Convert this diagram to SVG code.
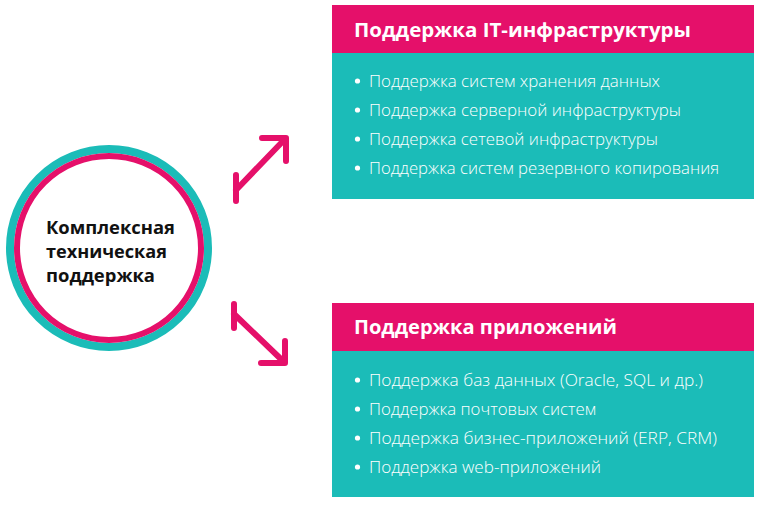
<svg xmlns="http://www.w3.org/2000/svg" width="762" height="505" viewBox="0 0 762 505">
  <style>
    .hdr { fill: #E5106A; }
    .body { fill: #1BBCB8; }
    .title { font-family: "Open Sans", "Noto Sans", "Liberation Sans", sans-serif; font-weight: 700; font-size: 20px; fill: #FFFFFF; }
    .item { font-family: "Open Sans", "Noto Sans", "Liberation Sans", sans-serif; font-weight: 300; font-size: 16.6px; fill: #FFFFFF; }
    .dot { fill: #FFFFFF; }
    .center { font-family: "Open Sans", "Noto Sans", "Liberation Sans", sans-serif; font-weight: 700; font-size: 18px; fill: #111111; }
    .arrow { fill: none; stroke: #E5106A; stroke-width: 6; stroke-linecap: round; stroke-linejoin: round; }
  </style>

  <g id="node-center">
    <circle cx="109" cy="248" r="99" fill="#FFFFFF" stroke="#1BBCB8" stroke-width="8"/>
    <circle cx="109" cy="248" r="92" fill="#FFFFFF" stroke="#E5106A" stroke-width="6"/>
    <text class="center" x="46" y="234" textLength="129" lengthAdjust="spacingAndGlyphs">Комплексная</text>
    <text class="center" x="46" y="258" textLength="121" lengthAdjust="spacingAndGlyphs">техническая</text>
    <text class="center" x="46" y="282" textLength="109" lengthAdjust="spacingAndGlyphs">поддержка</text>
  </g>

  <g id="node-it">
    <rect class="hdr" x="332" y="5" width="422" height="48"/>
    <rect class="body" x="332" y="53" width="422" height="146"/>
    <text class="title" x="354" y="37" textLength="337" lengthAdjust="spacingAndGlyphs">Поддержка IT-инфраструктуры</text>
    <circle class="dot" cx="357.5" cy="81" r="2.6"/>
    <circle class="dot" cx="357.5" cy="110" r="2.6"/>
    <circle class="dot" cx="357.5" cy="139" r="2.6"/>
    <circle class="dot" cx="357.5" cy="168" r="2.6"/>
    <text class="item" x="369" y="87" textLength="291" lengthAdjust="spacingAndGlyphs">Поддержка систем хранения данных</text>
    <text class="item" x="369" y="116" textLength="312" lengthAdjust="spacingAndGlyphs">Поддержка серверной инфраструктуры</text>
    <text class="item" x="369" y="145" textLength="289" lengthAdjust="spacingAndGlyphs">Поддержка сетевой инфраструктуры</text>
    <text class="item" x="369" y="174" textLength="350" lengthAdjust="spacingAndGlyphs">Поддержка систем резервного копирования</text>
  </g>

  <g id="node-apps">
    <rect class="hdr" x="332" y="303" width="422" height="48"/>
    <rect class="body" x="332" y="351" width="422" height="146"/>
    <text class="title" x="354" y="334" textLength="263" lengthAdjust="spacingAndGlyphs">Поддержка приложений</text>
    <circle class="dot" cx="357.5" cy="380" r="2.6"/>
    <circle class="dot" cx="357.5" cy="409" r="2.6"/>
    <circle class="dot" cx="357.5" cy="438" r="2.6"/>
    <circle class="dot" cx="357.5" cy="467" r="2.6"/>
    <text class="item" x="369" y="386" textLength="334" lengthAdjust="spacingAndGlyphs">Поддержка баз данных (Oracle, SQL и др.)</text>
    <text class="item" x="369" y="415" textLength="227" lengthAdjust="spacingAndGlyphs">Поддержка почтовых систем</text>
    <text class="item" x="369" y="444" textLength="348" lengthAdjust="spacingAndGlyphs">Поддержка бизнес-приложений (ERP, CRM)</text>
    <text class="item" x="369" y="473" textLength="232" lengthAdjust="spacingAndGlyphs">Поддержка web-приложений</text>
  </g>

  <g id="connectors">
    <path class="arrow" d="M236,175 V201 M236,190 L285,139 M262,138 H286 V161"/>
    <path class="arrow" d="M234,304 V328 M234,314 L284,362 M261,363 H285 V341"/>
  </g>
</svg>
